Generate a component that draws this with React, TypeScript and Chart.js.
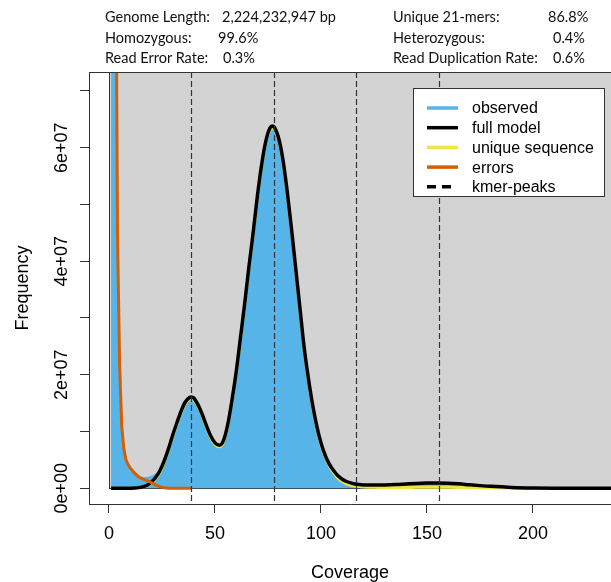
import React, { useEffect, useRef } from "react";
import { Chart, registerables } from "chart.js";

Chart.register(...registerables);

// ---- data (frequency values in units of 1e7) ----
const coverage = [
  1, 2, 3, 4, 5, 6, 7, 8, 9, 10, 12, 14, 16, 18, 20, 22, 24, 26, 28, 30, 32, 34, 36, 38, 39,
  40, 42, 44, 46, 48, 50, 52, 54, 56, 58, 60, 62, 64, 66, 68, 70, 72, 74, 76, 77,
  78, 80, 82, 84, 86, 88, 90, 92, 94, 96, 98, 100, 102, 104, 106, 108, 110, 112, 114, 116, 118, 120,
  125, 130, 135, 140, 145, 150, 155, 160, 165, 170, 175, 180, 190, 200, 210, 220, 230, 240,
];

const observed = [
  450, 65, 12, 4.55, 2.25, 1.12, 0.72, 0.52, 0.44, 0.38, 0.29, 0.23, 0.2, 0.2, 0.22, 0.26, 0.34, 0.49, 0.7, 0.93, 1.15, 1.36, 1.52, 1.6, 1.61,
  1.59, 1.47, 1.3, 1.1, 0.92, 0.8, 0.76, 0.85, 1.12, 1.55, 2.05, 2.65, 3.25, 3.9, 4.5, 5.15, 5.7, 6.12, 6.35, 6.38,
  6.36, 6.17, 5.8, 5.25, 4.6, 3.9, 3.2, 2.5, 1.95, 1.48, 1.1, 0.8, 0.58, 0.42, 0.31, 0.22, 0.16, 0.12, 0.095, 0.075, 0.065, 0.06,
  0.058, 0.06, 0.065, 0.075, 0.085, 0.092, 0.095, 0.09, 0.078, 0.062, 0.047, 0.034, 0.016, 0.007, 0.003, 0.0012, 0.0005, 0.0002,
];

const fullModel = [
  0, 0, 0, 0, 0, 0, 0, 0.001, 0.001, 0.002, 0.005, 0.012, 0.027, 0.055, 0.11, 0.19, 0.31, 0.48, 0.69, 0.93, 1.15, 1.36, 1.52, 1.6, 1.61,
  1.59, 1.47, 1.3, 1.1, 0.92, 0.8, 0.76, 0.84, 1.12, 1.55, 2.05, 2.65, 3.25, 3.9, 4.5, 5.15, 5.7, 6.12, 6.35, 6.38,
  6.36, 6.17, 5.8, 5.25, 4.6, 3.9, 3.2, 2.5, 1.95, 1.48, 1.1, 0.8, 0.58, 0.42, 0.31, 0.22, 0.16, 0.12, 0.095, 0.075, 0.065, 0.06,
  0.058, 0.06, 0.065, 0.075, 0.085, 0.092, 0.095, 0.09, 0.078, 0.062, 0.047, 0.034, 0.016, 0.007, 0.003, 0.0012, 0.0005, 0.0002,
];

const uniqueSequence = [
  0, 0, 0, 0, 0, 0, 0, 0.001, 0.001, 0.002, 0.004, 0.01, 0.022, 0.045, 0.09, 0.165, 0.28, 0.45, 0.66, 0.9, 1.12, 1.33, 1.49, 1.57, 1.58,
  1.56, 1.44, 1.27, 1.07, 0.89, 0.77, 0.73, 0.81, 1.09, 1.52, 2.02, 2.62, 3.22, 3.87, 4.47, 5.12, 5.67, 6.09, 6.32, 6.35,
  6.33, 6.14, 5.77, 5.22, 4.57, 3.87, 3.17, 2.47, 1.92, 1.45, 1.07, 0.77, 0.55, 0.39, 0.27, 0.18, 0.12, 0.08, 0.055, 0.04, 0.03, 0.024,
  0.017, 0.014, 0.014, 0.015, 0.017, 0.018, 0.019, 0.018, 0.016, 0.013, 0.01, 0.008, 0.004, 0.002, 0.001, 0.0004, 0.0002, 0.0001,
];

const errors = [
  420, 62, 11.6, 4.5, 2.2, 1.1, 0.7, 0.5, 0.42, 0.36, 0.27, 0.2, 0.16, 0.135, 0.1, 0.06, 0.03, 0.008, 0.001, 0, 0, 0, 0, 0, 0,
];

const kmerPeaks = [38.9, 77.8, 116.7, 155.6];
const xTicks = [0, 50, 100, 150, 200];
const yTickMarks = [0, 1, 2, 3, 4, 5, 6, 7];
const yLabelValues = [0, 2, 4, 6];
const yLabels = ["0e+00", "2e+07", "4e+07", "6e+07"];

const legendLabels = ["observed", "full model", "unique sequence", "errors", "kmer-peaks"];

const headerLeftLabels = ["Genome Length:", "Homozygous:", "Read Error Rate:"];
const headerLeftValues = ["2,224,232,947 bp", "99.6%", "0.3%"];
const headerRightLabels = ["Unique 21-mers:", "Heterozygous:", "Read Duplication Rate:"];
const headerRightValues = ["86.8%", "0.4%", "0.6%"];

// ---- styles ----
const COL_HIST = "#56B4E9";
const COL_FULL = "#000000";
const COL_UNIQUE = "#F0E442";
const COL_ERR = "#D55E00";
const FONT = '"Liberation Sans", Arial, Helvetica, sans-serif';
const legendColors = [COL_HIST, COL_FULL, COL_UNIQUE, COL_ERR, "#000000"];

const leftValueX = [222, 218, 223];
const rightValueX = [548, 553, 553];

const toPoints = (vals: number[]) => vals.map((v, i) => ({ x: coverage[i], y: v }));

const decorPlugin = {
  id: "decor",
  beforeDatasetsDraw(chart: any) {
    const { ctx, chartArea: a, scales } = chart;
    const x0 = scales.x.getPixelForValue(0);
    const y0 = scales.y.getPixelForValue(0);
    ctx.save();
    ctx.beginPath();
    ctx.rect(a.left, a.top, a.right - a.left, a.bottom - a.top);
    ctx.clip();
    ctx.fillStyle = "#d3d3d3";
    ctx.fillRect(x0, a.top - 10, a.right + 20 - x0, y0 - a.top + 10);
    ctx.strokeStyle = "#333";
    ctx.lineWidth = 1;
    ctx.strokeRect(Math.round(x0) + 0.5, a.top - 10, a.right + 40 - x0, Math.round(y0) - a.top + 10 + 0.5);
    ctx.restore();
  },
  afterDatasetsDraw(chart: any) {
    const { ctx, chartArea: a, scales } = chart;
    // kmer peak lines
    ctx.save();
    ctx.strokeStyle = "#333";
    ctx.lineWidth = 1.2;
    ctx.setLineDash([6, 3]);
    kmerPeaks.forEach((p) => {
      const px = Math.round(scales.x.getPixelForValue(p)) + 0.5;
      ctx.beginPath();
      ctx.moveTo(px, a.top);
      ctx.lineTo(px, a.bottom);
      ctx.stroke();
    });
    ctx.setLineDash([]);
    // top border of the box
    ctx.strokeStyle = "#333";
    ctx.lineWidth = 1;
    ctx.beginPath();
    ctx.moveTo(a.left, Math.round(a.top) + 0.5);
    ctx.lineTo(a.right, Math.round(a.top) + 0.5);
    ctx.stroke();

    // legend
    const lx = 413.5, ly = 88.5, lw = 191, lh = 108;
    ctx.fillStyle = "#ffffff";
    ctx.fillRect(lx, ly, lw, lh);
    ctx.strokeStyle = "#333";
    ctx.strokeRect(lx, ly, lw, lh);
    ctx.font = `16px ${FONT}`;
    ctx.textBaseline = "middle";
    ctx.textAlign = "left";
    legendLabels.forEach((lab, i) => {
      const yy = 108 + i * 19.7;
      ctx.strokeStyle = legendColors[i];
      ctx.lineWidth = 3.5;
      ctx.beginPath();
      if (i === 4) {
        ctx.setLineDash([9, 6]);
        ctx.moveTo(427, yy);
        ctx.lineTo(453, yy);
      } else {
        ctx.moveTo(427, yy);
        ctx.lineTo(458, yy);
      }
      ctx.stroke();
      ctx.setLineDash([]);
      ctx.fillStyle = "#000";
      ctx.fillText(lab, 472, yy + 1);
    });

    // rotated y tick labels
    ctx.font = `18px ${FONT}`;
    ctx.fillStyle = "#000";
    ctx.textAlign = "center";
    ctx.textBaseline = "middle";
    yLabelValues.forEach((v, i) => {
      const py = scales.y.getPixelForValue(v);
      ctx.save();
      ctx.translate(62, py);
      ctx.rotate(-Math.PI / 2);
      ctx.fillText(yLabels[i], 0, 0);
      ctx.restore();
    });
    ctx.restore();
  },
};

export default function App() {
  const ref = useRef<HTMLCanvasElement>(null);

  useEffect(() => {
    const chart = new Chart(ref.current as HTMLCanvasElement, {
      type: "line",
      data: {
        datasets: [
          {
            label: "errors",
            data: errors.map((v, i) => ({ x: coverage[i], y: v })),
            borderColor: COL_ERR,
            borderWidth: 3,
            pointRadius: 0,
            tension: 0,
            fill: false,
            clip: 0,
          },
          {
            label: "full model",
            data: toPoints(fullModel),
            borderColor: COL_FULL,
            borderWidth: 3.5,
            pointRadius: 0,
            cubicInterpolationMode: "monotone",
            fill: false,
            clip: 0,
          },
          {
            label: "unique sequence",
            data: toPoints(uniqueSequence),
            borderColor: COL_UNIQUE,
            borderWidth: 3,
            pointRadius: 0,
            cubicInterpolationMode: "monotone",
            fill: false,
            clip: 0,
          },
          {
            label: "observed",
            data: toPoints(observed),
            borderColor: "rgba(0,0,0,0)",
            borderWidth: 0,
            backgroundColor: COL_HIST,
            pointRadius: 0,
            cubicInterpolationMode: "monotone",
            fill: "origin",
            clip: 0,
          },
        ],
      } as any,
      options: {
        responsive: false,
        animation: false,
        devicePixelRatio: 1,
        layout: { padding: { top: 72, right: 0, left: 0, bottom: 0 } },
        plugins: {
          legend: { display: false },
          tooltip: { enabled: false },
        },
        scales: {
          x: {
            type: "linear",
            min: -9.43,
            max: 236.8,
            afterBuildTicks: (s: any) => {
              s.ticks = xTicks.map((v) => ({ value: v }));
            },
            afterFit: (s: any) => {
              s.height = 78;
            },
            grid: {
              display: true,
              drawOnChartArea: false,
              drawTicks: true,
              tickLength: 9,
              color: "#333",
              lineWidth: 1,
            },
            border: { display: true, color: "#333", width: 1 },
            ticks: {
              font: { size: 18, family: FONT },
              color: "#000",
              padding: 10,
              maxRotation: 0,
              autoSkip: false,
              callback: (v: any) => String(v),
            },
            title: {
              display: true,
              text: "Coverage",
              font: { size: 18, family: FONT, lineHeight: 1 },
              color: "#000",
              padding: { top: 0, bottom: 0 },
            },
          },
          y: {
            type: "linear",
            min: -0.2766,
            max: 7.333,
            afterBuildTicks: (s: any) => {
              s.ticks = yTickMarks.map((v) => ({ value: v }));
            },
            afterFit: (s: any) => {
              s.width = 89;
            },
            grid: {
              display: true,
              drawOnChartArea: false,
              drawTicks: true,
              tickLength: 9,
              color: "#333",
              lineWidth: 1,
            },
            border: { display: true, color: "#333", width: 1 },
            ticks: { display: false },
            title: {
              display: true,
              text: "Frequency",
              font: { size: 18, family: FONT, lineHeight: 1.2 },
              color: "#000",
              padding: { top: 12, bottom: 0 },
            },
          },
        },
      } as any,
      plugins: [decorPlugin],
    });
    return () => chart.destroy();
  }, []);

  const headerStyle = (left: number, row: number): React.CSSProperties => ({
    position: "absolute",
    left,
    top: 7 + row * 20.5,
    fontFamily: "Lato, 'Open Sans', sans-serif",
    fontSize: 14.5,
    lineHeight: "20px",
    color: "#111",
    whiteSpace: "nowrap",
  });

  return (
    <div
      style={{
        position: "absolute",
        left: 0,
        top: 0,
        width: 611,
        height: 582,
        background: "#fff",
        overflow: "hidden",
      }}
    >
      <canvas ref={ref} width={611} height={582} style={{ position: "absolute", left: 0, top: 0 }} />
      {headerLeftLabels.map((t, i) => (
        <div key={"ll" + i} style={headerStyle(105, i)}>{t}</div>
      ))}
      {headerLeftValues.map((t, i) => (
        <div key={"lv" + i} style={headerStyle(leftValueX[i], i)}>{t}</div>
      ))}
      {headerRightLabels.map((t, i) => (
        <div key={"rl" + i} style={headerStyle(393, i)}>{t}</div>
      ))}
      {headerRightValues.map((t, i) => (
        <div key={"rv" + i} style={headerStyle(rightValueX[i], i)}>{t}</div>
      ))}
    </div>
  );
}
